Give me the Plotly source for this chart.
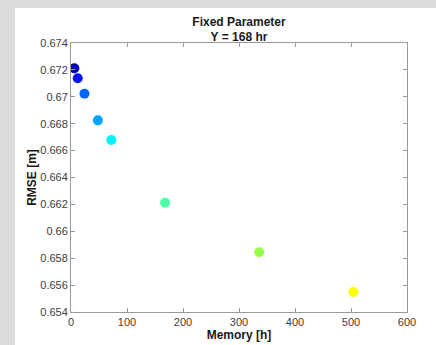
import plotly.graph_objects as go

memory = [6, 12, 24, 48, 72, 168, 336, 504]
rmse = [0.67212, 0.67138, 0.67023, 0.66825, 0.66679, 0.66213, 0.65844, 0.65549]
colors = ["#0000b4", "#0014f5", "#0062ff", "#00a2ff", "#00f4ff", "#4cffa4", "#98ff4a", "#ffff00"]

y_ticks = [0.654, 0.656, 0.658, 0.66, 0.662, 0.664, 0.666, 0.668, 0.67, 0.672, 0.674]
y_tick_labels = ["0.654", "0.656", "0.658", "0.66", "0.662", "0.664", "0.666", "0.668", "0.67", "0.672", "0.674"]
x_ticks = [0, 100, 200, 300, 400, 500, 600]

W, H = 436, 345
L, R, T, B = 71, 29, 43, 33
pw, ph = W - L - R, H - T - B

fig = go.Figure()
fig.add_trace(go.Scatter(
    x=memory, y=rmse, mode="markers",
    marker=dict(size=10, color=colors, line=dict(width=0)),
    showlegend=False,
))

font = "Liberation Sans, Arial, Helvetica, sans-serif"
axis_common = dict(
    showgrid=False, zeroline=False, showline=True, linecolor="#9a9a9a", linewidth=1,
    mirror="ticks", ticks="inside", ticklen=4, tickcolor="#9a9a9a", automargin=False,
    tickfont=dict(family=font, size=11, color="#404040"),
)

fig.update_layout(
    width=W, height=H,
    margin=dict(l=L, r=R, t=T, b=B, pad=0),
    paper_bgcolor="#dcdcdc",
    plot_bgcolor="white",
    font=dict(family=font),
    title=dict(
        text="<b>Fixed Parameter</b><br><b>Y = 168 hr</b>",
        x=(L + pw / 2) / W, xanchor="center",
        y=1 - 25.5 / H, yanchor="middle",
        font=dict(family=font, size=12, color="#1a1a1a"),
    ),
    xaxis=dict(
        range=[0, 600], tickvals=x_ticks, ticktext=[str(v) for v in x_ticks],
        title=dict(text="<b>Memory [h]</b>", font=dict(family=font, size=12, color="#1a1a1a"), standoff=1),
        **axis_common,
    ),
    yaxis=dict(
        range=[0.654, 0.674], tickvals=y_ticks, ticktext=y_tick_labels,
        title=dict(text="<b>RMSE [m]</b>", font=dict(family=font, size=12, color="#1a1a1a"), standoff=1),
        **axis_common,
    ),
    shapes=[dict(
        type="rect", xref="paper", yref="paper", layer="below",
        x0=(15 - L) / pw, x1=(W - L) / pw + 0.01,
        y0=(T + ph - H) / ph - 0.01, y1=(T + ph - 8) / ph,
        fillcolor="white", line=dict(width=0),
    )],
)

fig.write_html(
    "out.html",
    config={"displayModeBar": False},
    post_script="document.body.style.margin='0';document.body.style.overflow='hidden';",
)
